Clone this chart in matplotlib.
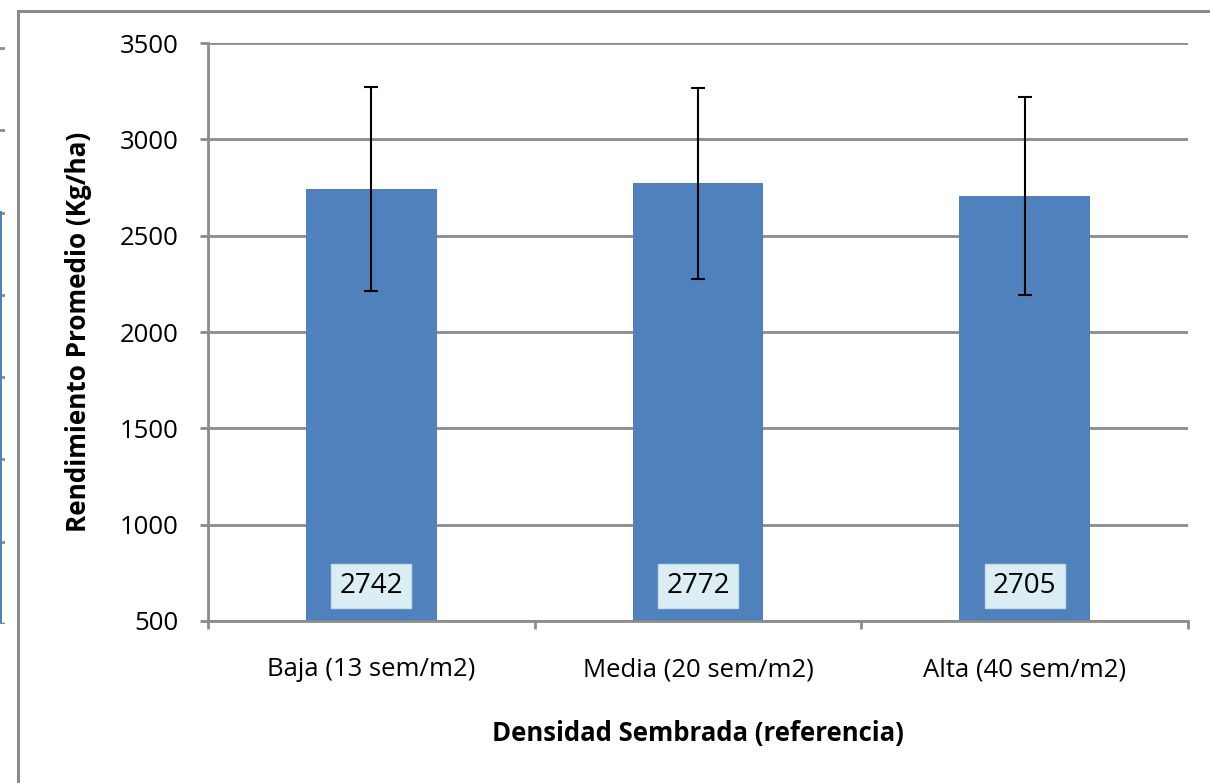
import matplotlib
matplotlib.use("Agg")
import matplotlib.pyplot as plt
from matplotlib.patches import Rectangle

# Rendimiento promedio por densidad de siembra
categories = ["Baja (13 sem/m2)", "Media (20 sem/m2)", "Alta (40 sem/m2)"]
yield_mean = [2742, 2772, 2705]
yield_err = [530, 495, 515]
yticks = [500, 1000, 1500, 2000, 2500, 3000, 3500]

# Gráfico vecino (solo su borde derecho queda a la vista)
neighbor_value = [5.02]

W, H = 1210, 783
fig = plt.figure(figsize=(W / 100, H / 100), dpi=100)
fig.patch.set_facecolor("white")

BAR = "#4F81BD"
GRID = "#8C8C8C"
FONT = "Open Sans"

# ---- neighbouring chart, cut by the left edge
axn = fig.add_axes([(5 - 300) / W, 1 - 624 / H, 300 / W, (624 - 15) / H])
axn.bar([0], neighbor_value, width=1.0, color=BAR, zorder=2)
axn.set_xlim(-1.0, 0.515)
axn.set_ylim(0, 7.4)
axn.set_yticks(range(0, 8))
axn.grid(axis="y", color=GRID, linewidth=2, zorder=1)
for s in axn.spines.values():
    s.set_visible(False)
axn.tick_params(left=False, bottom=False, labelleft=False, labelbottom=False)
axn.axhline(0, color=GRID, linewidth=2.5, zorder=3)

# ---- chart frame
fig.add_artist(Rectangle((18 / W, -0.05), 1.1, 1 - 11 / H + 0.05,
                         transform=fig.transFigure, fill=False,
                         edgecolor="#8A8A8A", linewidth=2.2, zorder=0))

# ---- main chart
ax = fig.add_axes([208 / W, 1 - 621 / H, 980 / W, 578 / H])
x = list(range(len(categories)))
ax.bar(x, [v - 500 for v in yield_mean], bottom=500, width=0.40,
       color=BAR, zorder=2)
ax.errorbar(x, yield_mean, yerr=yield_err, fmt="none", ecolor="black",
            elinewidth=1.5, capsize=5, capthick=1.5, zorder=4)

ax.set_xlim(-0.5, 2.5)
ax.set_ylim(500, 3500)
ax.set_yticks(yticks)
ax.grid(axis="y", color=GRID, linewidth=2, zorder=1)
ax.set_axisbelow(True)

for side in ("top", "right"):
    ax.spines[side].set_visible(False)
for side in ("left", "bottom"):
    ax.spines[side].set_color(GRID)
    ax.spines[side].set_linewidth(2)
    ax.spines[side].set_zorder(3)

ax.tick_params(axis="y", direction="out", length=6, width=2, color=GRID,
               pad=15, labelsize=18.5)
for lab in ax.get_yticklabels():
    lab.set_fontfamily(FONT)

ax.set_xticks(x)
ax.set_xticklabels(categories, fontfamily=FONT, fontsize=18.5)
ax.set_xticks([-0.5, 0.5, 1.5, 2.5], minor=True)
ax.tick_params(axis="x", which="major", length=0, pad=26)
ax.tick_params(axis="x", which="minor", direction="out", length=6,
               width=2, color=GRID)

ax.set_ylabel("Rendimiento Promedio (Kg/ha)", fontfamily=FONT,
              fontweight="bold", fontsize=18.8)
ax.yaxis.set_label_coords(-0.118, 0.5)
ax.set_xlabel("Densidad Sembrada (referencia)", fontfamily=FONT,
              fontweight="bold", fontsize=18.5)
ax.xaxis.set_label_coords(0.5, -0.171)

# value labels at the base of each bar
for xi, v in zip(x, yield_mean):
    ax.annotate(f"{v}", xy=(xi, 500), xytext=(0, 35),
                textcoords="offset pixels", ha="center", va="center",
                fontfamily=FONT, fontsize=20, color="black", zorder=5,
                bbox=dict(boxstyle="square,pad=0.3", facecolor="#DBEEF4",
                          edgecolor="#C6DDE8", linewidth=1))

fig.savefig("out.png", dpi=100, facecolor="white")
